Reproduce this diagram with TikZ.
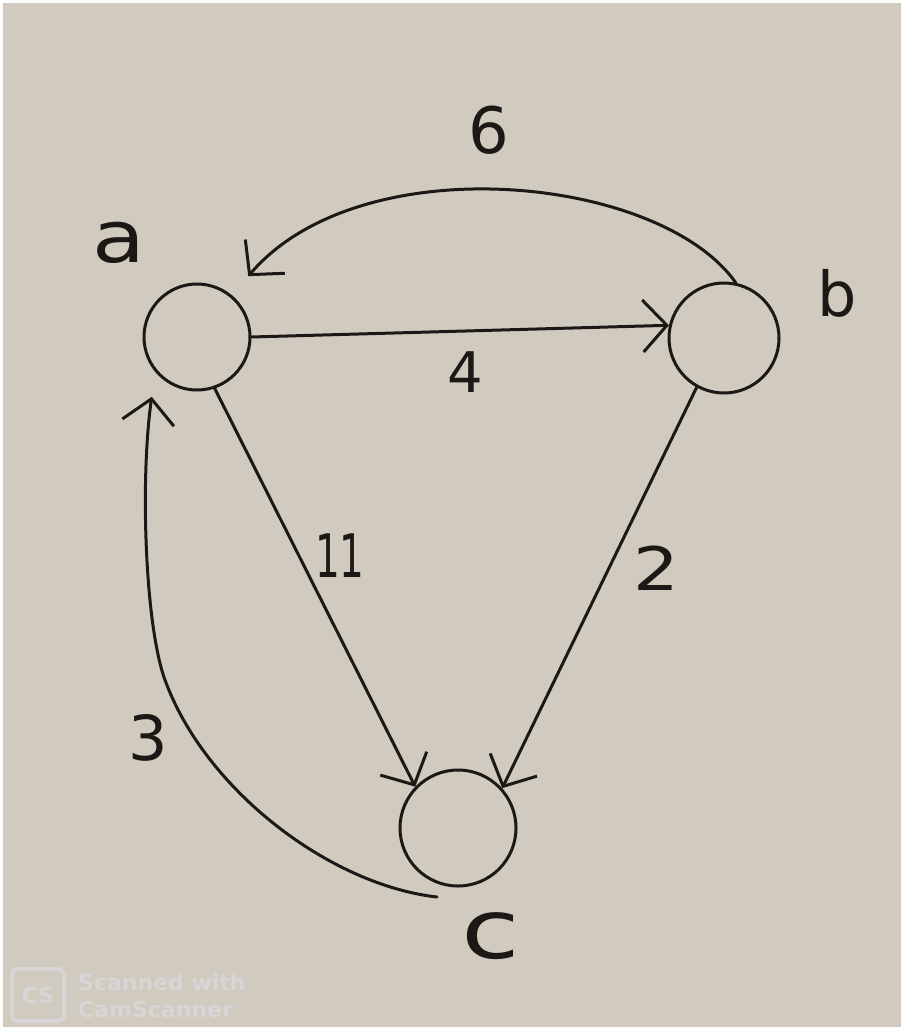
\documentclass[tikz,border=0pt]{standalone}
\usepackage{fontspec}
\setmainfont{DejaVu Sans}
\usetikzlibrary{arrows.meta}
\definecolor{paper}{RGB}{209,202,191}
\definecolor{ink}{RGB}{28,24,22}
\definecolor{wm}{RGB}{216,213,215}
\begin{document}
\begin{tikzpicture}[x=1pt,y=-1pt,
  vert/.style={draw=ink, circle, inner sep=0pt, line width=3pt, minimum size=106pt},
  lbl/.style={text=ink, inner sep=0pt},
  edge/.style={draw=ink, line width=3pt, line cap=round,
    -{Straight Barb[length=24pt,width=52pt,line width=3pt]}}]
\useasboundingbox (0,0) rectangle (904,1030);
\fill[white] (0,0) rectangle (904,1030);
\fill[paper] (3,3) rectangle (901,1027);
% vertices
\node[vert] (a) at (197,337) {};
\node[vert, minimum size=110pt] (b) at (724,338) {};
\node[vert, minimum size=116pt] (c) at (458,828) {};
% vertex labels
\node[lbl, font=\fontsize{72}{72}\selectfont, xscale=1.2] (la) at (119,243) {a};
\node[lbl, font=\fontsize{62}{62}\selectfont] (lb) at (837,293) {b};
\node[lbl, font=\fontsize{82}{82}\selectfont, xscale=1.3] (lc) at (491,936) {c};
% edges
\draw[edge] (a.0) -- (b.167);
\draw[edge, shorten >=25pt] (b.78) .. controls (660,175) and (360,145) .. (a.50);
\draw[edge] (a.-71) -- (c.136);
\draw[edge] (b.-119) -- (c.42);
\coordinate (cs) at (437,897);
\draw[edge, shorten >=25pt] (cs) .. controls (330,885) and (205,790) .. (165,680)
   .. controls (145,625) and (140,480) .. (a.-140);
% weights
\node[lbl, font=\fontsize{64}{64}\selectfont] (w6) at (489,130) {6};
\node[lbl, font=\fontsize{56}{56}\selectfont] (w4) at (465,372) {4};
\node[lbl, font=\fontsize{60}{60}\selectfont, xscale=0.65] (w11) at (340,556) {11};
\node[lbl, font=\fontsize{60}{60}\selectfont, xscale=1.2] (w2) at (656,568) {2};
\node[lbl, font=\fontsize{62}{62}\selectfont] (w3) at (148,738) {3};
% watermark
\node[draw=wm, fill=none, line width=4pt, rounded corners=6pt, minimum width=52pt, minimum height=52pt,
  text=wm, font=\bfseries\fontsize{22}{22}\selectfont] (logo) at (38,995) {CS};
\node[text=wm, anchor=west, align=left, inner sep=0pt, font=\bfseries\fontsize{22}{27}\selectfont]
  (wmt) at (78,996) {Scanned with\\CamScanner};
\end{tikzpicture}
\end{document}
